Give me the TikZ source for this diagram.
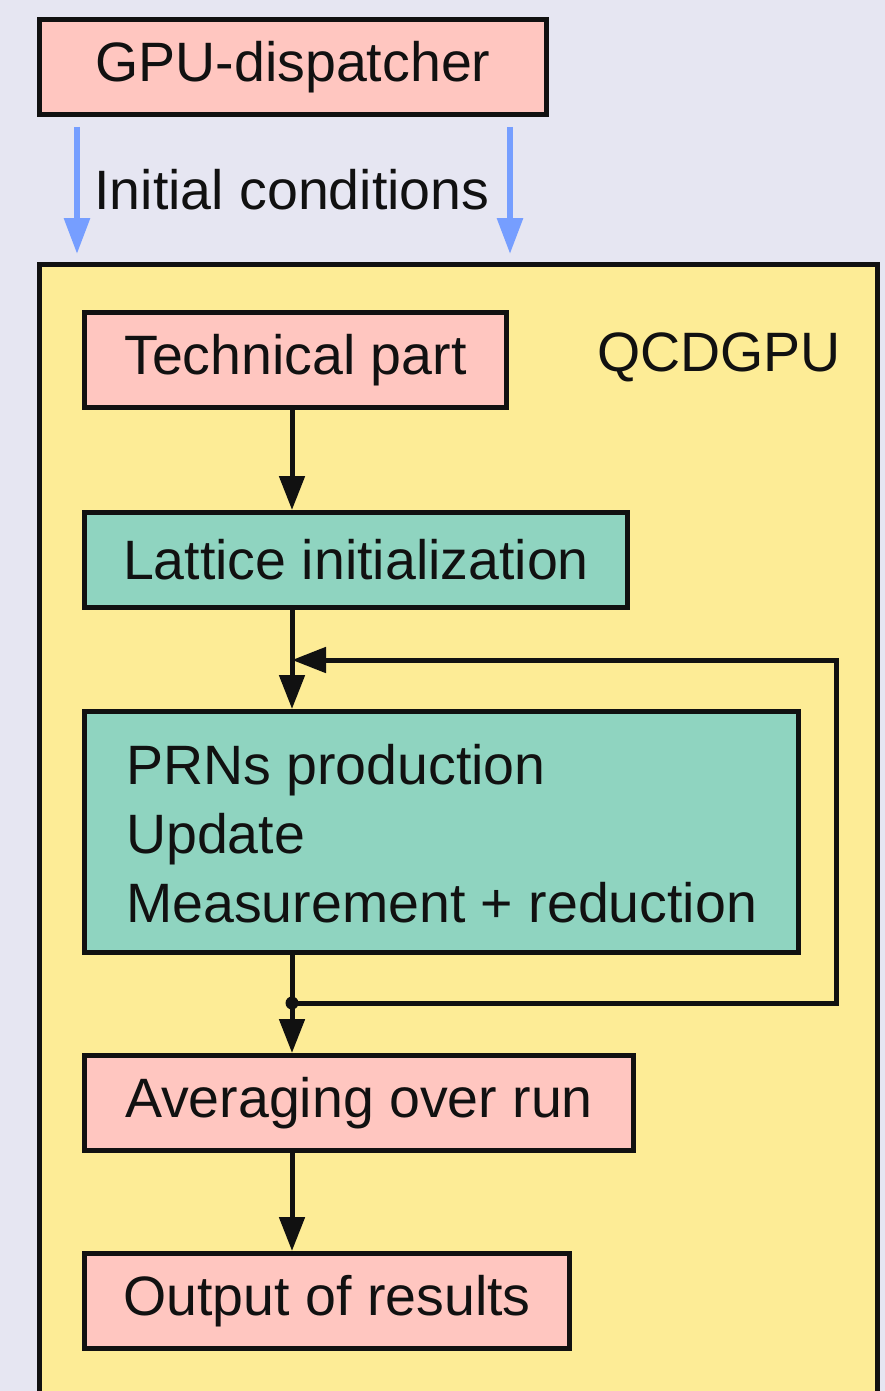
\documentclass[tikz,border=0pt]{standalone}
\usepackage{fontspec}
\setmainfont{Liberation Sans}
\usetikzlibrary{arrows.meta}
\definecolor{bgc}{RGB}{230,230,242}
\definecolor{pinkc}{RGB}{255,198,192}
\definecolor{yelc}{RGB}{253,236,150}
\definecolor{grnc}{RGB}{143,212,192}
\definecolor{bluec}{RGB}{118,158,255}
\definecolor{inkc}{RGB}{17,17,17}
\tikzset{
  box/.style={draw=inkc, line width=5pt, rectangle, inner sep=0pt, text=inkc,
    font=\fontsize{55.5}{69}\selectfont},
  pinkbox/.style={box, fill=pinkc},
  greenbox/.style={box, fill=grnc},
  arr/.style={draw=inkc, line width=5pt, -{Triangle[length=34pt,width=25pt]}},
  bluearr/.style={draw=bluec, line width=6pt, -{Triangle[length=36pt,width=25pt]}},
  lbl/.style={inner sep=0pt, text=inkc, font=\fontsize{55.5}{69}\selectfont}
}
\begin{document}
\begin{tikzpicture}[x=1pt,y=-1pt]
\clip (0,0) rectangle (885,1391);
\fill[bgc] (0,0) rectangle (885,1391);
% container
\node[box, fill=yelc, minimum width=838, minimum height=1200, anchor=north west] (qcd) at (37,262) {};
\node[lbl] (qcdlbl) at (719,357) {QCDGPU};
% dispatcher
\node[pinkbox, minimum width=507, minimum height=95] (disp) at (293,67) {GPU-dispatcher};
\node[lbl] (init) at (292,190) {Initial conditions};
\coordinate (b1s) at (77,127);
\coordinate (b1e) at (77,254);
\coordinate (b2s) at (510,127);
\coordinate (b2e) at (510,254);
\draw[bluearr] (b1s) -- (b1e);
\draw[bluearr] (b2s) -- (b2e);
% boxes
\node[pinkbox, minimum width=422, minimum height=95] (tech) at (295.5,360) {Technical part};
\node[greenbox, minimum width=543, minimum height=95] (latt) at (356,560) {Lattice initialization};
\node[greenbox, minimum width=714, minimum height=241] (prn) at (441.5,832) {};
\node[lbl, anchor=base west, align=left] (prntxt) at (126,922)
  {PRNs production\\Update\\Measurement + reduction};
\node[pinkbox, minimum width=549, minimum height=95] (avg) at (359,1103) {Averaging over run};
\node[pinkbox, minimum width=485, minimum height=95] (out) at (327,1301) {Output of results};
% connectors
\coordinate (ax) at (292,0);
\coordinate (j) at (292,1003);
\coordinate (r) at (836,660);
\draw[arr] (ax |- tech.south) -- (ax |- latt.north);
\draw[arr] (ax |- latt.south) -- (ax |- prn.north);
\draw[arr] (ax |- prn.south) -- (ax |- avg.north);
\draw[arr] (ax |- avg.south) -- (ax |- out.north);
\draw[arr, line join=miter] (j) -- (j -| r) -- (r) -- (ax |- r);
\fill[inkc] (j) circle (6.5);
\end{tikzpicture}
\end{document}
